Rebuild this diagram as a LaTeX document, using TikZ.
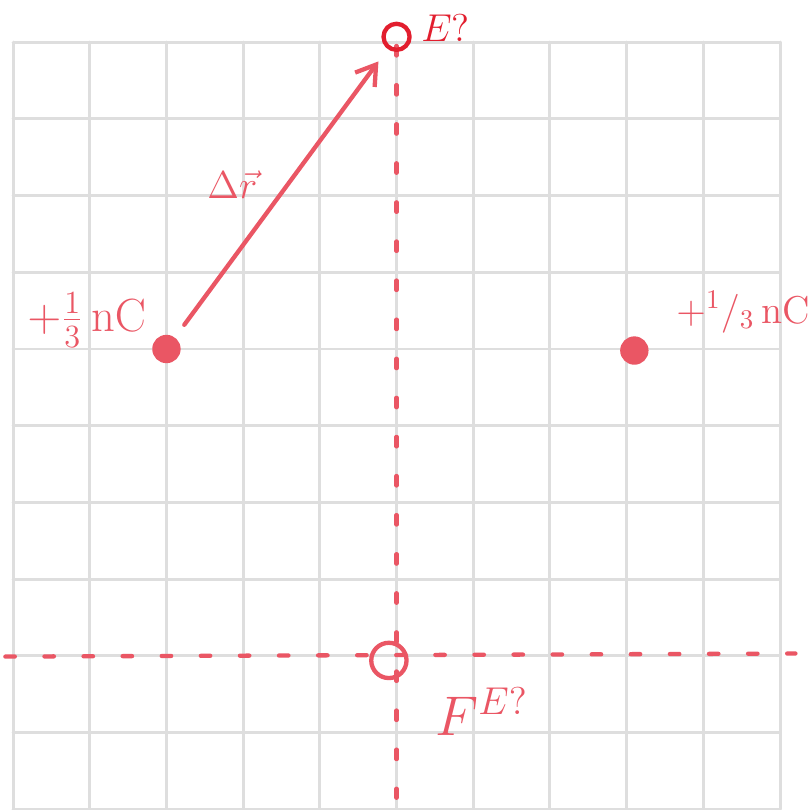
\documentclass[tikz,border=0pt]{standalone}
\usetikzlibrary{arrows.meta,positioning}
\definecolor{pen}{RGB}{234,86,100}
\definecolor{ink}{RGB}{226,30,46}
\definecolor{gridgray}{RGB}{222,222,222}
\tikzset{
  penline/.style={pen, line width=1.6pt},
  dashpen/.style={penline, dash pattern=on 3.5pt off 11pt},
  charge/.style={circle, fill=pen, inner sep=0pt, minimum size=0.37cm},
  ring/.style={circle, draw=#1, line width=1.6pt, inner sep=0pt}
}
\begin{document}
\begin{tikzpicture}[x=1cm, y=1cm, line join=round, line cap=round, font=\LARGE]
	\useasboundingbox[fill=white] (-0.17,-0.01) rectangle (10.37,10.55);
	\draw[gridgray, line width=1.1pt] (0,0) grid (10,10);
	
	\coordinate (Vtop) at (5,9.95);
	\coordinate (Vbot) at (5,0.15);
	\coordinate (Hl) at (-0.1,1.99);
	\coordinate (Hr) at (10.2,2.03);
	
	\draw[dashpen] (Vtop)--(Vbot);
	\draw[dashpen] (Hl)--(Hr);
	
	\node[charge] (q1) at (2,6) {};
	\node[charge] (q2) at (8.1,5.98) {};
	\node[ring=ink, minimum size=0.34cm] (probe) at (5,10.07) {};
	\node[ring=pen, minimum size=0.46cm] (orig) at (4.9,1.94) {};
	
	\draw[penline, -{Straight Barb[length=7pt, width=9pt]}, shorten <=0.2cm, shorten >=0.2cm] (q1)--(probe);
	
	\node[pen, left=-0.05cm of q1, yshift=0.38cm] (q1lab) {$+\frac{1}{3}\,\mathrm{nC}$};
	\node[pen, right=0.35cm of q2, yshift=0.5cm, inner xsep=0pt, font=\Large] (q2lab) {$+{}^{1}/_{3}\,\mathrm{nC}$};
	\node[ink, right=0pt of probe, yshift=0.12cm, font=\Large] (probelab) {$E$?};
	\node[pen, font=\Large] (drlab) at (2.86,8.14) {$\Delta\vec{r}$};
	\node[pen, font=\huge, below right=0.05cm and 0.3cm of orig] (forcelab) {$F^{E?}$};
\end{tikzpicture}
\end{document}
